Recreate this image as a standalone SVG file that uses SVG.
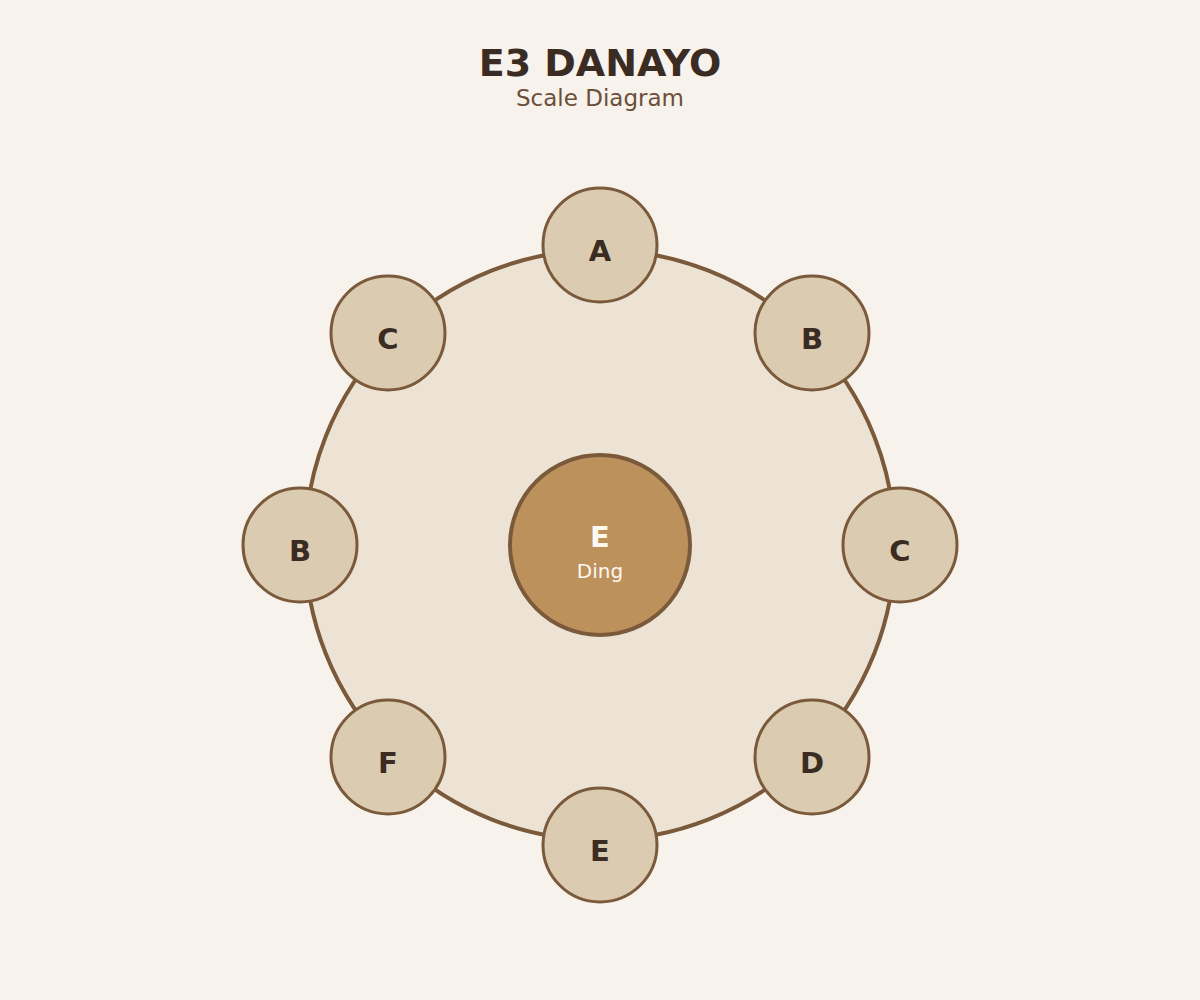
<svg xmlns="http://www.w3.org/2000/svg" width="1200" height="1000" viewBox="0 0 1200 1000">
<style>
.title{font-family:"DejaVu Sans",sans-serif;font-weight:bold;font-size:38px;fill:#3a2c22;text-anchor:middle}
.sub{font-family:"DejaVu Sans",sans-serif;font-size:23px;fill:#6b4f3a;text-anchor:middle}
.node circle{fill:#dbcbb0;stroke:#7a5a3a;stroke-width:3}
.node text{font-family:"DejaVu Sans",sans-serif;font-weight:bold;font-size:29px;fill:#3a2c22;text-anchor:middle}
.ring{fill:#ede3d4;stroke:#7a5a3a;stroke-width:4}
.center circle{fill:#bc915c;stroke:#7a5a3a;stroke-width:4}
.center .l{font-family:"DejaVu Sans",sans-serif;font-weight:bold;font-size:29px;fill:#fdf8f0;text-anchor:middle}
.center .s{font-family:"DejaVu Sans",sans-serif;font-size:20px;fill:#fdf8f0;text-anchor:middle}
</style>
<rect width="1200" height="1000" fill="#f7f2ec"/>
<text class="title" x="600" y="76">E3 DANAYO</text>
<text class="sub" x="600" y="106">Scale Diagram</text>
<g id="connectors">
<circle class="ring" cx="600" cy="545" r="295"/>
</g>
<g id="center" class="center">
<circle cx="600" cy="545" r="90"/>
<text class="l" x="600" y="547">E</text>
<text class="s" x="600" y="578">Ding</text>
</g>
<g id="n1" class="node"><circle cx="600" cy="245" r="57"/><text x="600" y="261">A</text></g>
<g id="n2" class="node"><circle cx="812" cy="333" r="57"/><text x="812" y="349">B</text></g>
<g id="n3" class="node"><circle cx="900" cy="545" r="57"/><text x="900" y="561">C</text></g>
<g id="n4" class="node"><circle cx="812" cy="757" r="57"/><text x="812" y="773">D</text></g>
<g id="n5" class="node"><circle cx="600" cy="845" r="57"/><text x="600" y="861">E</text></g>
<g id="n6" class="node"><circle cx="388" cy="757" r="57"/><text x="388" y="773">F</text></g>
<g id="n7" class="node"><circle cx="300" cy="545" r="57"/><text x="300" y="561">B</text></g>
<g id="n8" class="node"><circle cx="388" cy="333" r="57"/><text x="388" y="349">C</text></g>
</svg>
